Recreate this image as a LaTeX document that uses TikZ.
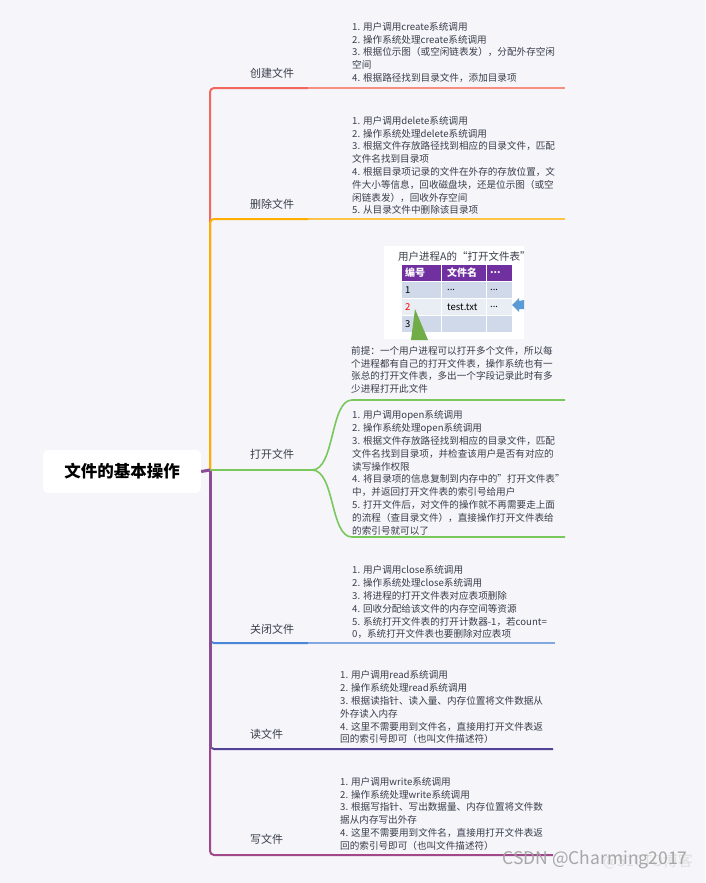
\documentclass[tikz,border=0pt]{standalone}
\usepackage{fontspec}
\setmainfont{Noto Sans CJK SC}
\usetikzlibrary{positioning}
\definecolor{bg}{RGB}{245,245,250}
\definecolor{txt}{RGB}{58,62,74}
\definecolor{cred}{RGB}{242,104,94}
\definecolor{credl}{RGB}{247,142,132}
\definecolor{corange}{RGB}{255,174,0}
\definecolor{corangel}{RGB}{255,196,70}
\definecolor{cgreen}{RGB}{122,199,92}
\definecolor{cblue}{RGB}{74,134,216}
\definecolor{cbluel}{RGB}{130,168,224}
\definecolor{cpurple}{RGB}{138,76,148}
\definecolor{cread}{RGB}{84,66,150}
\definecolor{cwrite}{RGB}{160,72,138}
\definecolor{thead}{RGB}{112,48,160}
\definecolor{trowa}{RGB}{207,217,234}
\definecolor{trowb}{RGB}{233,237,244}
\definecolor{tarrow}{RGB}{91,155,213}
\definecolor{ttri}{RGB}{112,173,71}
\tikzset{
  root/.style={fill=white, rounded corners=5pt, minimum width=158pt, minimum height=43pt,
    inner sep=0pt, font=\fontsize{16.5}{20}\selectfont\bfseries},
  topic/.style={anchor=west, inner sep=0pt, text=txt, font=\fontsize{11}{13}\selectfont},
  note/.style={anchor=north west, inner sep=0pt, align=left, text=txt,
    font=\fontsize{9.6}{12.8}\selectfont},
  wire/.style={line width=2pt},
  cell/.style={anchor=west, inner sep=0pt, font=\fontsize{9.5}{11}\selectfont}
}
\begin{document}
\begin{tikzpicture}[x=1pt,y=-1pt]
  \fill[bg] (0,0) rectangle (705,883);
  \useasboundingbox (0,0) rectangle (705,883);

  \node[root] (root) at (122,471.5) {文件的基本操作};
  \coordinate (hub) at (210,470);

  \node[topic] (create) at (250,73) {创建文件};
  \node[topic] (delete) at (250,204) {删除文件};
  \node[topic] (open) at (250,454) {打开文件};
  \node[topic] (close) at (250,629) {关闭文件};
  \node[topic] (read) at (250,734) {读文件};
  \node[topic] (write) at (250,839) {写文件};

  \coordinate (k1) at (308,88);   \coordinate (e1) at (565,88);
  \coordinate (k2) at (308,219);  \coordinate (e2) at (565,219);
  \coordinate (g1) at (312,470);
  \coordinate (g2) at (352,400);  \coordinate (g3) at (565,400);
  \coordinate (g4) at (352,537);  \coordinate (g5) at (565,537);
  \coordinate (k4) at (308,643);  \coordinate (e4) at (555,643);
  \coordinate (e5) at (553,749);
  \coordinate (e6) at (553,855);
  \coordinate (t5) at (210,749);

  \begin{scope}[wire]
    \draw[cred, rounded corners=4pt] (hub) |- (k1);
    \draw[credl] (k1) -- (e1);
    \draw[corange, rounded corners=4pt] (hub) |- (k2);
    \draw[corangel] (k2) -- (e2);
    \draw[cwrite, rounded corners=4pt] (hub) |- (e6);
    \draw[cread, rounded corners=4pt] (hub) |- (e5);
    \draw[cblue, rounded corners=4pt] (hub) |- (k4);
    \draw[cbluel] (k4) -- (e4);
    \draw[cpurple, line width=3pt] (hub) -- (t5);
    \draw[cpurple, line width=3pt] (root.east) -- (hub);
  \end{scope}
  \begin{scope}[cgreen, line width=1.6pt]
    \draw (hub) -- (g1) .. controls (335,470) and (330,400) .. (g2) -- (g3);
    \draw (g1) .. controls (335,470) and (330,537) .. (g4) -- (g5);
  \end{scope}

  \node[note] (createtxt) at (352,22) {1. 用户调用create系统调用\\
    2. 操作系统处理create系统调用\\
    3. 根据位示图（或空闲链表发），分配外存空闲\\
    空间\\
    4. 根据路径找到目录文件，添加目录项};
  \node[note] (deletetxt) at (352,116) {1. 用户调用delete系统调用\\
    2. 操作系统处理delete系统调用\\
    3. 根据文件存放路径找到相应的目录文件，匹配\\
    文件名找到目录项\\
    4. 根据目录项记录的文件在外存的存放位置，文\\
    件大小等信息，回收磁盘块，还是位示图（或空\\
    闲链表发），回收外存空间\\
    5. 从目录文件中删除该目录项};
  \node[note] (opennote) at (351,346) {前提：一个用户进程可以打开多个文件，所以每\\
    个进程都有自己的打开文件表，操作系统也有一\\
    张总的打开文件表，多出一个字段记录此时有多\\
    少进程打开此文件};
  \node[note] (opentxt) at (352,410.5) {1. 用户调用open系统调用\\
    2. 操作系统处理open系统调用\\
    3. 根据文件存放路径找到相应的目录文件，匹配\\
    文件名找到目录项，并检查该用户是否有对应的\\
    读写操作权限\\
    4. 将目录项的信息复制到内存中的"打开文件表"\\
    中，并返回打开文件表的索引号给用户\\
    5. 打开文件后，对文件的操作就不再需要走上面\\
    的流程（查目录文件），直接操作打开文件表给\\
    的索引号就可以了};
  \node[note] (closetxt) at (352,565.5) {1. 用户调用close系统调用\\
    2. 操作系统处理close系统调用\\
    3. 将进程的打开文件表对应表项删除\\
    4. 回收分配给该文件的内存空间等资源\\
    5. 系统打开文件表的打开计数器-1，若count=\\
    0，系统打开文件表也要删除对应表项};
  \node[note] (readtxt) at (340,670.5) {1. 用户调用read系统调用\\
    2. 操作系统处理read系统调用\\
    3. 根据读指针、读入量、内存位置将文件数据从\\
    外存读入内存\\
    4. 这里不需要用到文件名，直接用打开文件表返\\
    回的索引号即可（也叫文件描述符）};
  \node[note] (writetxt) at (340,777) {1. 用户调用write系统调用\\
    2. 操作系统处理write系统调用\\
    3. 根据写指针、写出数据量、内存位置将文件数\\
    据从内存写出外存\\
    4. 这里不需要用到文件名，直接用打开文件表返\\
    回的索引号即可（也叫文件描述符）};

  \fill[white] (384,246) rectangle (524,339);
  \node[anchor=west, inner sep=0pt, font=\fontsize{10.5}{12}\selectfont, text=txt]
    (tabtitle) at (398,257) {用户进程A的“打开文件表”};
  \fill[thead] (402,265) rectangle (441,281);
  \fill[thead] (442,265) rectangle (486,281);
  \fill[thead] (487,265) rectangle (512,281);
  \foreach \ya/\yb/\c in {282/298/trowa, 299/315/trowb, 316/332/trowa} {
    \fill[\c] (402,\ya) rectangle (441,\yb);
    \fill[\c] (442,\ya) rectangle (486,\yb);
    \fill[\c] (487,\ya) rectangle (512,\yb);
  }
  \node[cell, text=white, font=\fontsize{10}{11}\selectfont\bfseries] (h1) at (405,273) {编号};
  \node[cell, text=white, font=\fontsize{10}{11}\selectfont\bfseries] (h2) at (447,273) {文件名};
  \node[cell, text=white, font=\fontsize{10}{11}\selectfont\bfseries] (h3) at (490,273) {...};
  \node[cell] (r1a) at (405,290) {1};
  \node[cell] (r1b) at (447,290) {...};
  \node[cell] (r1c) at (490,290) {...};
  \node[cell, text=red] (r2a) at (405,307) {2};
  \node[cell] (r2b) at (447,307) {test.txt};
  \node[cell] (r2c) at (490,307) {...};
  \node[cell] (r3a) at (405,324) {3};
  \fill[ttri] (415,309) -- (428,340) -- (411,340) -- cycle;
  \fill[tarrow] (512,305) -- (519,298) -- (519,301) -- (524,300) -- (524,309)
    -- (519,309) -- (519,312) -- cycle;

  \node[font=\fontsize{15}{16}\selectfont, text=gray!25] (mark2) at (648,861) {@51CTO博客};
  \node[font=\fontsize{17.5}{19}\selectfont, text=gray!75, opacity=0.9] (mark) at (595,860) {CSDN @Charming2017};
\end{tikzpicture}
\end{document}
